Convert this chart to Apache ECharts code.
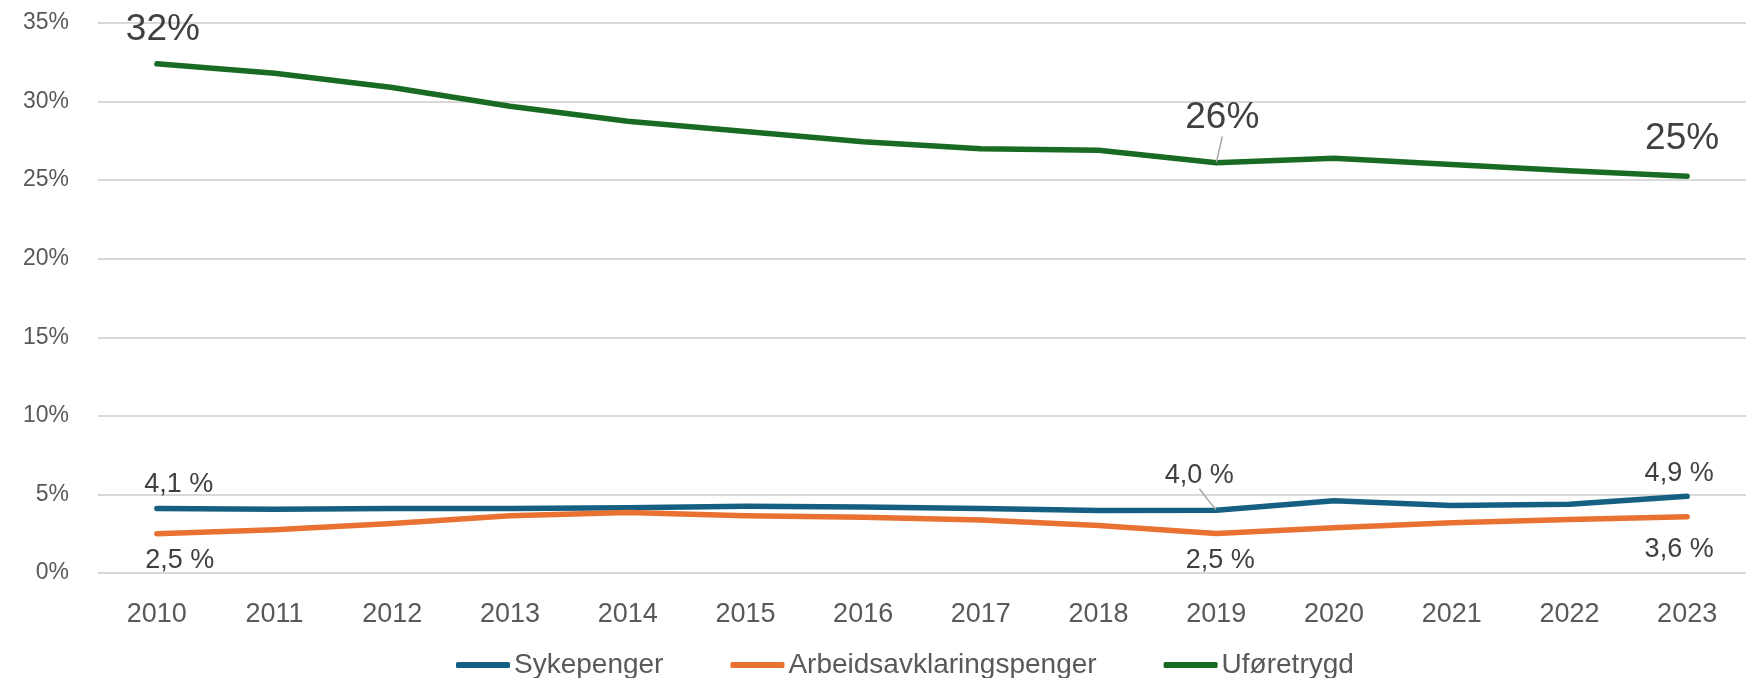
<!DOCTYPE html>
<html>
<head>
<meta charset="utf-8">
<style>
  html, body { margin: 0; padding: 0; background: #fff; }
  #main { width: 1746px; height: 678px; }
</style>
</head>
<body>
<div id="main"></div>
<script src="https://cdn.jsdelivr.net/npm/echarts@6/dist/echarts.min.js"></script>
<script type="text/javascript">
    // data
    var years = ['2010', '2011', '2012', '2013', '2014', '2015', '2016', '2017', '2018', '2019', '2020', '2021', '2022', '2023'];
    var sykepenger = [4.1, 4.05, 4.1, 4.1, 4.15, 4.25, 4.2, 4.1, 3.98, 3.99, 4.6, 4.3, 4.38, 4.88];
    var aap = [2.5, 2.75, 3.15, 3.65, 3.85, 3.65, 3.55, 3.38, 3.02, 2.52, 2.88, 3.2, 3.4, 3.58];
    var uforetrygd = [32.4, 31.8, 30.9, 29.7, 28.75, 28.1, 27.45, 27.0, 26.9, 26.1, 26.4, 26.0, 25.6, 25.25];
    var labelled = [0, 9, 13];

    var font = "'Liberation Sans', Arial, sans-serif";

    // label offsets (dx, dy from point) per series
    var offsets = {
        0: {0: [22, -24], 9: [-17, -35], 13: [-8, -23]},
        1: {0: [23, 27], 9: [4, 27], 13: [-8, 33]},
        2: {0: [6, -34], 9: [6, -45], 13: [-5, -37]}
    };
    var guides = {0: [9], 1: [], 2: [9]};

    function withLabels(values, sIdx) {
        return values.map(function (v, i) {
            if (labelled.indexOf(i) < 0) return v;
            return {
                value: v,
                label: {show: true},
                labelLine: {show: guides[sIdx].indexOf(i) >= 0}
            };
        });
    }

    function pct1(p) {
        return p.value.toFixed(1).replace('.', ',') + ' %';
    }

    function makeSeries(name, values, color, sIdx, fmt, fontSize) {
        return {
            name: name,
            type: 'line',
            data: withLabels(values, sIdx),
            symbol: 'circle',
            symbolSize: 1,
            showSymbol: true,
            lineStyle: {width: 5.5, color: color, cap: 'round', join: 'round'},
            itemStyle: {color: color},
            label: {
                show: false,
                position: 'inside',
                formatter: fmt,
                fontFamily: font,
                fontSize: fontSize,
                color: '#404040'
            },
            labelLine: {show: false, lineStyle: {color: '#A6A6A6', width: 1.5}},
            labelLayout: function (params) {
                var o = offsets[sIdx][params.dataIndex] || [0, 0];
                return {dx: o[0], dy: o[1]};
            },
            emphasis: {disabled: true},
            animation: false
        };
    }

    var myChart = echarts.init(document.getElementById('main'));
    var option = {
        backgroundColor: '#fff',
        animation: false,
        grid: {left: 98, top: 23, right: -5, bottom: 105},
        legend: {
            data: ['Sykepenger', 'Arbeidsavklaringspenger', 'Uføretrygd'],
            left: 451,
            top: 646,
            icon: 'roundRect',
            itemWidth: 54,
            itemHeight: 6,
            itemGap: 67,
            textStyle: {fontFamily: font, fontSize: 28, color: '#595959', padding: [0, 0, 0, -1]}
        },
        xAxis: {
            type: 'category',
            data: years,
            boundaryGap: true,
            axisLine: {show: false},
            axisTick: {show: false},
            axisLabel: {fontFamily: font, fontSize: 27, color: '#595959', margin: 28}
        },
        yAxis: {
            type: 'value',
            min: 0,
            max: 35,
            interval: 5,
            axisLabel: {formatter: '{value}%', fontFamily: font, fontSize: 23, color: '#595959', margin: 29},
            splitLine: {lineStyle: {color: '#D9D9D9', width: 2}}
        },
        series: [
            makeSeries('Sykepenger', sykepenger, '#156082', 0, pct1, 27),
            makeSeries('Arbeidsavklaringspenger', aap, '#E97132', 1, pct1, 27),
            makeSeries('Uføretrygd', uforetrygd, '#196B24', 2, function (p) { return Math.round(p.value) + '%'; }, 37)
        ]
    };

    myChart.setOption(option);
</script>
</body>
</html>
